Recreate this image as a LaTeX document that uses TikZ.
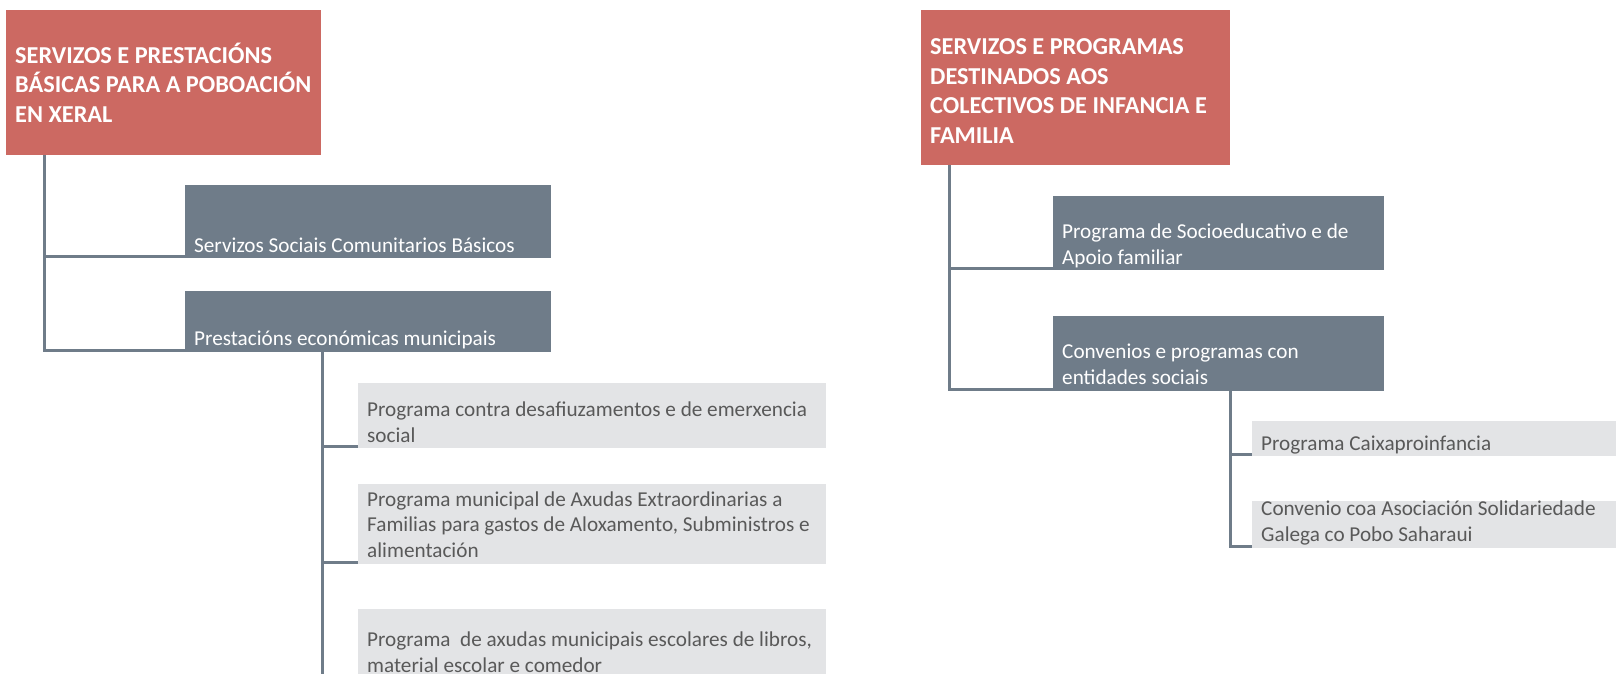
\documentclass[tikz,border=0pt]{standalone}
\usepackage{fontspec}
\setmainfont{Carlito}
\usetikzlibrary{positioning}
\definecolor{hred}{RGB}{204,105,98}
\definecolor{hslate}{RGB}{111,124,137}
\definecolor{hlight}{RGB}{227,228,230}
\definecolor{htext}{RGB}{89,89,89}

\begin{document}
\begin{tikzpicture}[x=1pt, y=-1pt,
    headbox/.style 2 args={fill=hred, text=white, anchor=north west, inner sep=0pt,
      font=\fontsize{24.3}{29.5}\selectfont\bfseries,
      execute at begin node={\begin{minipage}[c][#2pt][c]{#1pt}\raggedright\leftskip=9pt\relax},
      execute at end node={\end{minipage}}},
    slatebox/.style 2 args={fill=hslate, text=white, anchor=north west, inner sep=0pt,
      font=\fontsize{21.2}{25.8}\selectfont,
      execute at begin node={\begin{minipage}[b][#2pt][b]{#1pt}\raggedright\leftskip=9pt\relax},
      execute at end node={\endgraf\kern-\prevdepth\kern6pt\end{minipage}}},
    lightbox/.style 2 args={slatebox={#1}{#2}, fill=hlight, text=htext},
    link/.style={draw=hslate, line width=3pt},
]
\path[use as bounding box, clip] (0,0) rectangle (1616,674);

% left column
\node[headbox={315}{145}] (root1) at (6,10) {SERVIZOS E PRESTACIÓNS\\BÁSICAS PARA A POBOACIÓN\\EN XERAL};
\node[slatebox={366}{73}] (ssc) at (185,185) {Servizos Sociais Comunitarios Básicos};
\node[slatebox={366}{61}, below=32pt of ssc.south west, anchor=north west] (pem) {Prestacións económicas municipais};
\node[lightbox={468}{65}] (desaf) at (358,383) {Programa contra desafiuzamentos e de emerxencia\\social};
\node[lightbox={468}{80}, below=35pt of desaf.south west, anchor=north west] (axudas) {Programa municipal de Axudas Extraordinarias a\\Familias para gastos de Aloxamento, Subministros e\\alimentación};
\node[lightbox={468}{69}, below=45pt of axudas.south west, anchor=north west] (escolar) {Programa~ de axudas municipais escolares de libros,\\material escolar e comedor};

% right column
\node[headbox={309}{155}] (root2) at (921,10) {\vspace*{7pt}SERVIZOS E PROGRAMAS\\DESTINADOS AOS\\COLECTIVOS DE INFANCIA E\\FAMILIA};
\node[slatebox={331}{74}] (socio) at (1053,196) {Programa de Socioeducativo e de\\Apoio familiar};
\node[slatebox={331}{75}, below=45pt of socio.south west, anchor=north west] (conv) {Convenios e programas con\\entidades sociais};
\node[lightbox={364}{35}] (caixa) at (1252,421) {Programa Caixaproinfancia};
\node[lightbox={364}{47}, below=44pt of caixa.south west, anchor=north west] (sahar) {Convenio coa Asociación Solidariedade\\Galega co Pobo Saharaui};

% connectors
\coordinate (trunk1) at ([xshift=38pt]root1.south west);
\coordinate (trunk1b) at ([xshift=137pt]pem.south west);
\coordinate (trunk2) at ([xshift=28pt]root2.south west);
\coordinate (trunk2b) at ([xshift=177pt]conv.south west);
\draw[link] (trunk1) |- ([yshift=1.5pt]ssc.south west);
\draw[link] (trunk1) |- ([yshift=1.5pt]pem.south west);
\draw[link] (trunk1b) |- ([yshift=1.5pt]desaf.south west);
\draw[link] (trunk1b) |- ([yshift=1.5pt]axudas.south west);
\draw[link] (trunk1b) |- ([yshift=1.5pt]escolar.south west);
\draw[link] (trunk2) |- ([yshift=1.5pt]socio.south west);
\draw[link] (trunk2) |- ([yshift=1.5pt]conv.south west);
\draw[link] (trunk2b) |- ([yshift=1.5pt]caixa.south west);
\draw[link] (trunk2b) |- ([yshift=1.5pt]sahar.south west);
\end{tikzpicture}
\end{document}
